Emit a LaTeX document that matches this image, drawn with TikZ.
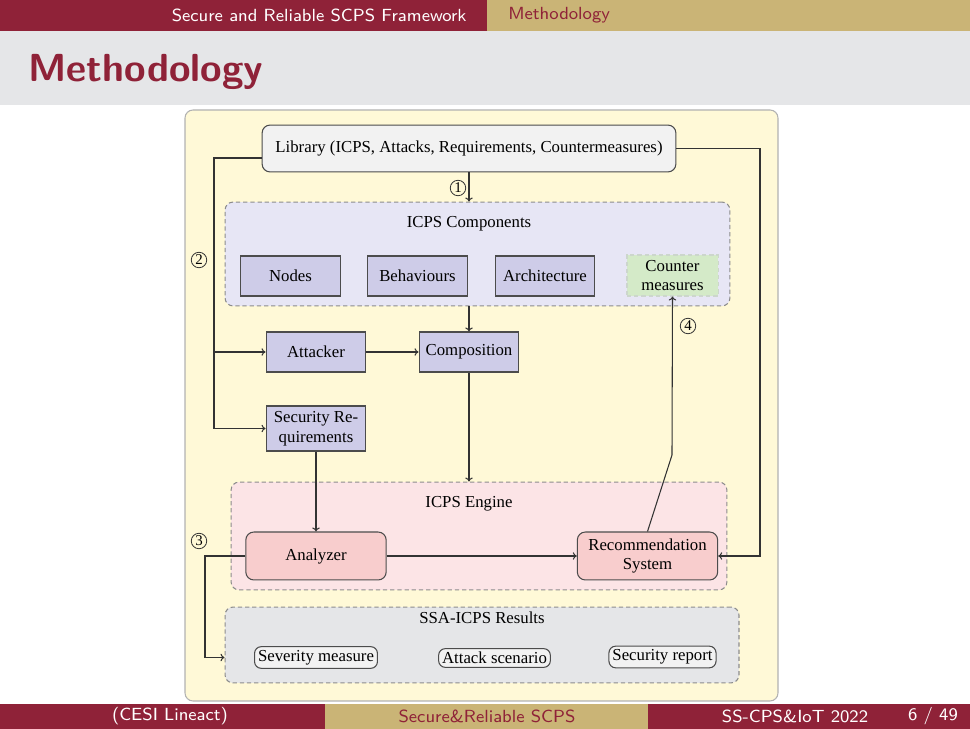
\documentclass[tikz,border=0pt]{standalone}
\usepackage{fontspec}
\setmainfont{Liberation Serif}
\usetikzlibrary{positioning, arrows.meta}
\definecolor{slred}{RGB}{143,34,56}
\definecolor{slgold}{RGB}{202,180,118}
\definecolor{slgray}{RGB}{229,230,232}
\definecolor{panelbg}{RGB}{255,249,215}
\definecolor{lavbox}{RGB}{206,204,232}
\definecolor{lavbg}{RGB}{231,230,245}
\definecolor{pinkbg}{RGB}{252,228,230}
\definecolor{pinkbox}{RGB}{248,205,205}
\definecolor{greenbox}{RGB}{212,234,200}
\newcommand{\diagfont}{\fontsize{6.3}{7.4}\selectfont}
\newcommand{\barfont}{\sffamily\fontsize{6.6}{8}\selectfont}

\begin{document}
\begin{tikzpicture}[x=0.013196cm, y=-0.013196cm,
        box/.style={draw=black!70, fill=lavbox, minimum width=37.5pt,
                    minimum height=15pt, inner sep=1pt, align=center, font=\diagfont},
        rbox/.style={draw=black!70, fill=pinkbox, rounded corners=3pt, minimum width=52.7pt,
                     minimum height=18pt, inner sep=1pt, align=center, font=\diagfont},
        group/.style={draw=black!45, dash pattern=on 1.6pt off 1.1pt,
                      rounded corners=3pt, inner sep=0pt},
        res/.style={draw=black!70, fill=black!5, rounded corners=2.5pt,
                    inner sep=1.3pt, font=\diagfont},
        line/.style={draw=black!80, line width=0.4pt, -{To[length=1.5pt,width=2.8pt]}},
        numc/.style={circle, draw=black!80, line width=0.3pt, inner sep=0.2pt,
                     minimum size=5.8pt, font=\fontsize{5.6}{5.6}\selectfont}
    ]
    \useasboundingbox (0,0) rectangle (970,729);

    % header and title
    \fill[slred] (0,0) rectangle (487,31);
    \fill[slgold] (487,0) rectangle (970,31);
    \node[font=\barfont, text=white, anchor=east] (sect) at (476,15.5)
        {Secure and Reliable SCPS Framework};
    \node[font=\barfont, text=slred, anchor=west] (subsect) at (499,15.5) {Methodology};
    \fill[slgray] (0,31) rectangle (970,105);
    \node[font=\sffamily\bfseries\fontsize{14.7}{17}\selectfont, text=slred, anchor=base west,
          inner sep=0pt] (title) at (28,82) {Methodology};

    % footer
    \fill[slred] (0,704) rectangle (325,729);
    \fill[slgold] (325,704) rectangle (648,729);
    \fill[slred] (648,704) rectangle (970,729);
    \node[font=\barfont, text=white] (author) at (170,716.5) {(CESI Lineact)};
    \node[font=\barfont, text=slred] (short) at (487,716.5) {Secure\&Reliable SCPS};
    \node[font=\barfont, text=white] (conf) at (795,716.5) {SS-CPS\&IoT 2022};
    \node[font=\barfont, text=white] (page) at (933,716.5) {6 / 49};

    % panel
    \draw[draw=black!30, fill=panelbg, rounded corners=3pt] (185,110) rectangle (778,701);

    \node[draw=black!70, fill=black!5, rounded corners=3pt, minimum width=155.4pt,
          minimum height=17.6pt, font=\diagfont] (lib) at (469,148.5)
        {Library (ICPS, Attacks, Requirements, Countermeasures)};

    % ICPS components
    \node[group, fill=lavbg, minimum width=189.6pt, minimum height=39pt] (comp) at (477.5,254) {};
    \node[font=\diagfont] (compl) at (469,224) {ICPS Components};
    \node[box] (nodes) at (290.5,276) {Nodes};
    \node[box] (behav) at (417.5,276) {Behaviours};
    \node[box] (arch) at (545,276) {Architecture};
    \node[box, draw=green!20!black!20, dash pattern=on 1.6pt off 1.1pt, fill=greenbox,
          minimum width=34.2pt, minimum height=15.4pt] (cm) at (672.5,275.5) {Counter\\measures};

    \node[box] (att) at (316,352) {Attacker};
    \node[box] (compo) at (469,352) {Composition};
    \node[box, minimum height=16.9pt] (sreq) at (316,428.5) {Security Re-\\quirements};

    % ICPS engine
    \node[group, fill=pinkbg, minimum width=186.2pt, minimum height=40.5pt] (eng) at (479,536) {};
    \node[font=\diagfont] (engl) at (469,504) {ICPS Engine};
    \node[rbox] (ana) at (316,556) {Analyzer};
    \node[rbox] (rec) at (647.5,556) {Recommendation\\System};

    % results
    \node[group, fill=slgray, minimum width=193pt, minimum height=28.5pt] (res) at (482,645) {};
    \node[font=\diagfont] (resl) at (482,618) {SSA-ICPS Results};
    \node[res] (sev) at (316,657.5) {Severity measure};
    \node[res] (scen) at (494.5,658) {Attack scenario};
    \node[res] (rep) at (662.5,657) {Security report};

    % connectors
    \coordinate (lbus) at (214,158);
    \coordinate (rbus) at (760,148.5);
    \coordinate (abus) at (205,556);
    \coordinate (bend) at (672,455);

    \draw[line] (lib.south) -- (lib.south |- comp.north);
    \draw[line] (lib.west |- lbus) -- (lbus) |- (att.west);
    \draw[line] (lbus) |- (sreq.west);
    \draw[line] (lib.east) -- (rbus) |- (rec.east);
    \draw[line] (att.east) -- (compo.west);
    \draw[line] (compo.north |- comp.south) -- (compo.north);
    \draw[line] (compo.south) -- (compo.south |- eng.north);
    \draw[line] (sreq.south) -- (ana.north);
    \draw[line] (ana.east) -- (rec.west);
    \draw[line] (ana.west) -- (abus) |- (res.west |- sev);
    \draw[line] (rec.north) -- (bend) -- (cm.south);

    \node[numc] (n1) at (458,188) {1};
    \node[numc] (n2) at (199,260) {2};
    \node[numc] (n3) at (199,541) {3};
    \node[numc] (n4) at (688,326) {4};

    \end{tikzpicture}
\end{document}
